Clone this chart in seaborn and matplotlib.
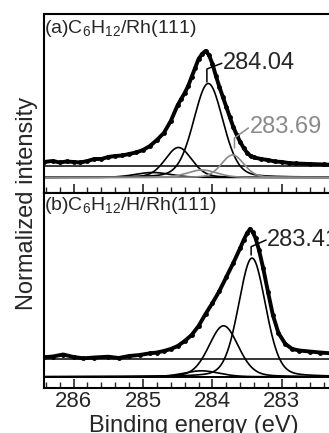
import numpy as np
import matplotlib.pyplot as plt
import seaborn as sns

# C 1s spectra, binding energy (eV) vs intensity (arb. units)
be_a = [286.43, 286.3, 286.2, 286.1, 286.0, 285.9, 285.8, 285.7, 285.6, 285.5, 285.4,
        285.3, 285.2, 285.1, 285.0, 284.9, 284.8, 284.7, 284.6, 284.5, 284.45, 284.4,
        284.35, 284.3, 284.25, 284.2, 284.15, 284.1, 284.05, 284.0, 283.95, 283.9,
        283.85, 283.8, 283.75, 283.7, 283.65, 283.6, 283.55, 283.5, 283.45, 283.4,
        283.3, 283.2, 283.1, 283.0, 282.9, 282.8, 282.6, 282.4, 282.2]
int_a = [31, 32, 30.5, 31.5, 31, 30.5, 32, 34, 34, 36, 37,
         37.5, 39, 40.5, 43, 47, 53, 60, 72, 88, 94, 100,
         107, 116, 125, 134, 139, 142, 138, 129, 117, 106,
         96, 86, 76, 66, 58, 51, 45, 40, 37, 35.5,
         34, 33, 31.5, 31, 30, 29.5, 29, 28.5, 28]

be_b = [286.43, 286.3, 286.15, 286.0, 285.86, 285.7, 285.5, 285.35, 285.2, 285.05,
        284.9, 284.8, 284.7, 284.6, 284.5, 284.4, 284.3, 284.2, 284.1, 284.0, 283.9,
        283.8, 283.7, 283.6, 283.55, 283.5, 283.46, 283.42, 283.38, 283.33, 283.27,
        283.2, 283.13, 283.05, 282.95, 282.85, 282.75, 282.6, 282.45, 282.3, 282.12]
int_b = [30.7, 31.5, 33.5, 31, 29.7, 30.5, 31.3, 30, 32, 33,
         34.7, 35.5, 37, 39, 42, 47, 53, 62, 74, 85, 97,
         111, 125, 140, 148, 155, 159, 156, 150, 138, 120,
         96, 73, 55, 44, 39, 37.5, 36.5, 35.5, 34.7, 34]

# fitted components: center, height, fwhm
comp_a_center = [284.86, 284.49, 284.06, 284.15, 283.71]
comp_a_height = [5, 30, 94, 7.5, 22.5]
comp_a_fwhm = [0.6, 0.45, 0.5, 0.5, 0.38]
comp_a_color = ['black', 'black', 'black', '#8a8a8a', '#8a8a8a']
base_a_fit, base_a_bg = 15.5, 27.3

comp_b_center = [284.16, 283.84, 283.43]
comp_b_height = [6, 51, 118.7]
comp_b_fwhm = [0.6, 0.5, 0.46]
base_b_fit, base_b_bg = 11.2, 29.0

sns.set_style('white')
plt.rcParams['font.family'] = ['Liberation Sans', 'DejaVu Sans']
plt.rcParams['mathtext.fontset'] = 'custom'
plt.rcParams['mathtext.rm'] = 'Liberation Sans'

xmin, xmax = 286.43, 282.12
grid = np.linspace(xmin, xmax, 800)


def pv(x, c, h, w, eta=0.2):
    g = np.exp(-4 * np.log(2) * ((x - c) / w) ** 2)
    l = 1 / (1 + 4 * ((x - c) / w) ** 2)
    return h * ((1 - eta) * g + eta * l)


fig = plt.figure(figsize=(3.29, 4.33), dpi=100)
ax_a = fig.add_axes([0.1328, 0.5543, 0.9098, 0.4134])
ax_b = fig.add_axes([0.1328, 0.1039, 0.9098, 0.4504])

# panel (a)
ax_a.axhline(base_a_bg, color='black', lw=1.1)
ax_a.axhline(base_a_fit, color='#9a9a9a', lw=1.4)
for c, h, w, col in zip(comp_a_center, comp_a_height, comp_a_fwhm, comp_a_color):
    sns.lineplot(x=grid, y=base_a_fit + pv(grid, c, h, w), ax=ax_a, color=col, lw=1.2, sort=False)
sns.lineplot(x=be_a, y=int_a, ax=ax_a, color='black', lw=2.8, marker='o', ms=3.5, mew=0, sort=False)
ax_a.set_ylim(0, 179)

ax_a.plot([284.08, 284.08, 283.865], [111, 124, 129.7], color='black', lw=1.1)
ax_a.text(283.846, 130, '284.04', fontsize=17, ha='left', va='center')
ax_a.plot([283.683, 283.683, 283.482], [45, 55, 65], color='#8a8a8a', lw=1.1)
ax_a.text(283.457, 66.3, '283.69', fontsize=17, ha='left', va='center', color='#8a8a8a')
ax_a.text(0.002, 0.92, r'(a)C$_\mathregular{6}$H$_\mathregular{12}$/Rh(111)', transform=ax_a.transAxes,
          fontsize=14, ha='left', va='center')

# panel (b)
ax_b.axhline(base_b_bg, color='black', lw=1.1)
ax_b.axhline(base_b_fit, color='black', lw=1.4)
for c, h, w in zip(comp_b_center, comp_b_height, comp_b_fwhm):
    sns.lineplot(x=grid, y=base_b_fit + pv(grid, c, h, w), ax=ax_b, color='black', lw=1.2, sort=False)
sns.lineplot(x=be_b, y=int_b, ax=ax_b, color='black', lw=2.8, marker='o', ms=3.5, mew=0, sort=False)
ax_b.set_ylim(0, 195)

ax_b.plot([283.443, 283.443, 283.227], [133, 141.3, 148], color='black', lw=1.1)
ax_b.text(283.213, 148, '283.41', fontsize=17, ha='left', va='center')
ax_b.text(0.002, 0.935, r'(b)C$_\mathregular{6}$H$_\mathregular{12}$/H/Rh(111)', transform=ax_b.transAxes,
          fontsize=14, ha='left', va='center')

for ax in (ax_a, ax_b):
    ax.set_xlim(xmin, xmax)
    ax.set_xticks([286, 285, 284, 283])
    ax.set_xticks(np.arange(286.4, 282.1, -0.2), minor=True)
    ax.set_yticks([])
    ax.set_xlabel('')
    ax.set_ylabel('')
    ax.spines['right'].set_visible(False)
    for s in ('left', 'top', 'bottom'):
        ax.spines[s].set_linewidth(1.5)
        ax.spines[s].set_color('black')
    ax.tick_params(axis='x', which='major', direction='in', length=6.5, width=1.2,
                   bottom=True, top=False, labelsize=16, pad=2.5)
    ax.tick_params(axis='x', which='minor', direction='in', length=4, width=1.0,
                   bottom=True, top=False)
ax_a.tick_params(axis='x', labelbottom=False)

fig.text(27 / 329, 0.531, 'Normalized intensity', rotation=90, fontsize=17, ha='center', va='center')
fig.text(0.588, 0.003, 'Binding energy (eV)', fontsize=17, ha='center', va='baseline')

fig.savefig('out.png', dpi=100)
